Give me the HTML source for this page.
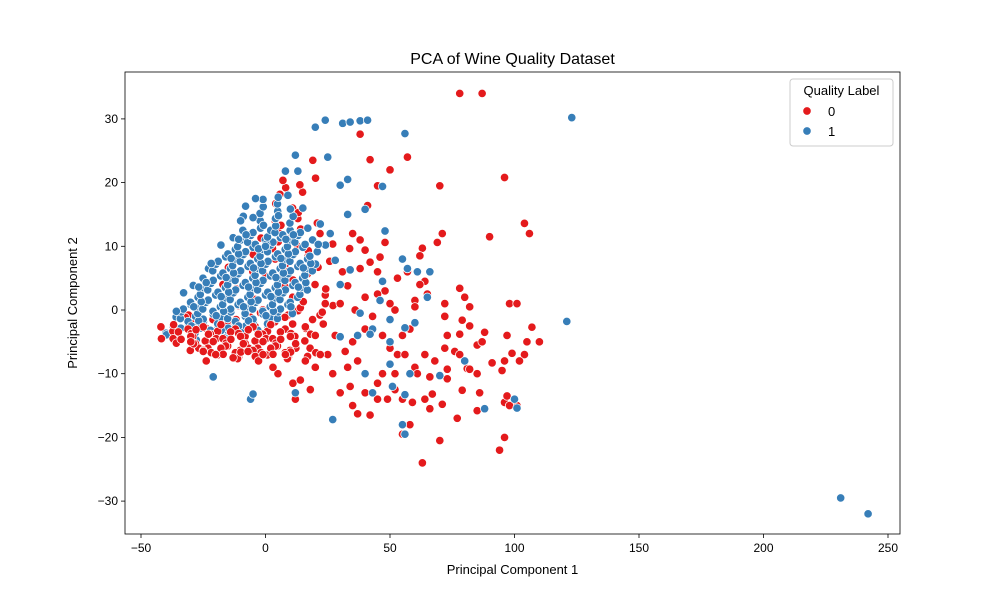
<!DOCTYPE html>
<html><head><meta charset="utf-8"><style>
body{margin:0;background:#fff;}
svg{font-family:"Liberation Sans","DejaVu Sans",sans-serif;}
</style></head><body>
<svg id="chart" width="1000" height="600" viewBox="0 0 1000 600" xmlns="http://www.w3.org/2000/svg">
<rect width="1000" height="600" fill="#fff"/>
<text x="512.5" y="64" text-anchor="middle" font-size="16">PCA of Wine Quality Dataset</text>
<g id="points"></g>
<rect x="125" y="72" width="775" height="462" fill="none" stroke="#000" stroke-width="0.8"/>
<g id="axes"></g>
<text x="512.5" y="574" text-anchor="middle" font-size="13">Principal Component 1</text>
<text transform="translate(77,303) rotate(-90)" text-anchor="middle" font-size="13">Principal Component 2</text>
<g>
<rect x="790" y="79" width="103" height="67" rx="3" fill="#fff" fill-opacity="0.8" stroke="#ccc"/>
<text x="841.5" y="95" text-anchor="middle" font-size="13">Quality Label</text>
<circle cx="807" cy="111" r="4.2" fill="#e41a1c" stroke="#fff" stroke-width="0.75"/>
<text x="828" y="116" font-size="13">0</text>
<circle cx="807" cy="131" r="4.2" fill="#377eb8" stroke="#fff" stroke-width="0.75"/>
<text x="828" y="136" font-size="13">1</text>
</g>
</svg>
<script>
const xTicks=[-50,0,50,100,150,200,250];
const yTicks=[-30,-20,-10,0,10,20,30];
// cluster rows: [y, x values...]
const redRows=[
[-3,-42,-39,-36,-32,-28,-25,-21,-17,-13,-9,-5,-1,3,7,12,16],
[-3.8,-40,-35,-31,-27,-23,-18,-14,-10,-6,-2,2,6,10],
[-4.5,-38,-34,-30,-26,-22,-18,-14,-10,-6,-2,2,6,10,14,19],
[-5.3,-33,-29,-25,-21,-17,-13,-9,-5,-1,3,7,11,14],
[-6,-32,-28,-24,-20,-16,-12,-8,-4,0,4,8,13,17,22],
[-6.7,-25,-21,-17,-13,-9,-5,-1,3,7,11],
[-7.3,-22,-17,-13,-9,-5,-1,3,7,11,16],
[-2.2,-30,-22,-14,-6,2,10,18],
[-1.5,-30,-22,-14,-6,2,10,18,25],
[-0.8,-34,-26,-18,-10,-2,6,14,21],
[0,-26,-18,-10,-2,6,14,21,28],
[2,-22,-14,-6,2,10,17,24],
[4,-18,-10,-2,6,12,19,26],
[6,-14,-6,2,8,15,22,30],
[8,-12,-4,3,10,17,24],
[10,-6,1,6,12,19,27,32],
[12,0,5,9,15,21],
[14,3,8,13,19],
[16,5,10,15],
[18.5,4,9,14],
[20,7,12,21]
];
const blueRows=[
[-4,-40,-37,-34,-30,-26,-22,-18,-14,-10],
[-3.2,-38,-34,-30,-27,-23,-19,-15,-11,-7,-4,0],
[-2.5,-38,-35,-31,-28,-24,-20,-16,-12,-8,-4,0],
[-1.8,-35,-32,-28,-25,-21,-17,-13,-9,-5,-1,3],
[-1,-36,-33,-29,-25,-21,-17,-13,-9,-5,-1,3,6],
[-0.2,-33,-29,-26,-22,-18,-14,-10,-6,-2,2,6,9],
[0.5,-34,-30,-27,-23,-19,-15,-11,-7,-3,1,5,9],
[1.2,-31,-27,-23,-19,-15,-11,-7,-3,1,5,9,12],
[2,-32,-28,-24,-20,-16,-12,-8,-4,0,4,8,12],
[2.8,-28,-24,-20,-16,-12,-8,-4,0,4,8,12,15],
[3.5,-29,-25,-21,-17,-13,-9,-5,-1,3,7,11,15],
[4.3,-25,-21,-17,-13,-9,-5,-1,3,7,11,15],
[5,-26,-22,-18,-14,-10,-6,-2,2,6,10,14,18],
[5.8,-22,-18,-14,-10,-6,-2,2,6,10,14,18],
[6.5,-23,-19,-15,-11,-7,-3,1,5,9,13,17,21],
[7.3,-19,-15,-11,-7,-3,1,5,9,13,17],
[8,-20,-16,-12,-8,-4,0,4,8,12,16,20],
[8.8,-16,-12,-8,-4,0,4,8,12,16],
[9.5,-17,-13,-9,-5,-1,3,7,11,15,19,25],
[10.3,-13,-9,-5,-1,3,7,11,15],
[11,-13,-9,-5,-1,2,6,10,14,18,23],
[11.8,-9,-5,-1,3,6,10,14],
[12.5,-10,-6,-2,2,5,9,13,17],
[14,-8,-3,1,4,8,12],
[15.5,-4,0,4,7,10],
[17,-1,3,6]
];
const redX=[78,87,38,57,42,19,96,70,50,45,104,106,90,71,69,63,57,53,72,78,80,82,98,101,107,110,105,97,88,85,87,91,99,104,102,76,78,72,68,73,81,82,79,77,70,63,66,64,67,85,96,97,96,94,101,98,60,59,55,55,58,52,49,45,40,42,37,35,30,27,34,45,47,52,53,56,64,66,61,71,73,95,86,52,60,65,64,72,73,79,96,82,78,85,50,48,45,48,40,41,42,46,38,35,38,45,43,40,35,33,37,32,28,25,22,20,24,30,33,36,40,47,50,55,58,60,62,62,12,11,14,18,20,16,5,8,3,-1,-7,-13,-20,-25,-30];
const redY=[34,34,27.6,24,23.6,23.5,20.8,19.5,22,19.5,13.6,12,11.5,12,10.6,9.7,6,5,-1,3.4,2,0.5,1,1,-2.7,-5,-5,-4,-3.5,-5.5,-5,-8.3,-6.8,-7,-8,-6.5,-7,-6,-8,-9.3,-9.2,-9.3,-12.6,-17,-20.5,-24,-15.5,-14,-13.2,-15.8,-14.5,-13.5,-20,-22,-15,-15,-9,-14.5,-14,-19.5,-18,-12.5,-14,-14,-13,-16.5,-16.3,-15,-13,-10,-12,-11.5,-10,-10,-7,-7,-7,-10.5,-10,-14.8,-10.8,-9.5,-13,0,1.5,2.5,4.5,1,-4,-1.6,-8,-2.5,-3.8,-10,1,3,6,10.6,9.4,16.4,7.5,8.3,6.5,12,11,2.5,-1,-3,-5,-9,-8,-6.5,-4,-7,-7,-4,1,1,3.8,0,2,-4,-6,-4,-3,0.5,4,8.5,-14,-11.5,-11,-12.5,-9,-8,-10,-7,-9,-7,-6.5,-7.5,-7,-6.5,-5];
const blueX=[123,121,231,242,24,31,34,38,41,56,20,25,12,8,13,30,33,47,40,48,33,22,26,15,9,-4,-8,-10,-5,0,100,101,88,55,56,56,43,27,12,-6,-5,-21,30,37,43,42,50,56,60,65,55,57,61,66,58,70,50,80,51,40,50,47,46,38,34,28,30];
const blueY=[30.2,-1.8,-29.5,-32,29.8,29.3,29.5,29.7,29.8,27.7,28.7,24,24.3,21.8,21.8,19.6,20.5,19.4,15.8,12.4,15,13.5,12,16,18,17.5,16.3,14,14.5,10,-14,-15.4,-15.5,-18,-19.5,-13.3,-13,-17.2,-13,-14,-13.2,-10.5,-4.2,-4,-3,-3.8,-1.5,-2.8,-2,2,8,6.5,6,6,-10,-10.3,-8.5,-8,-12,-10,-5,4.5,1.5,-0.5,6.3,7.8,4];

const X0=265.5, XS=2.49, Y0=310, YS=6.37;
const sx=v=>X0+v*XS, sy=v=>Y0-v*YS;
const NS='http://www.w3.org/2000/svg';
const pts=document.getElementById('points');
const axes=document.getElementById('axes');
function dot(x,y,c,name){
  const el=document.createElementNS(NS,'circle');
  el.setAttribute('cx',sx(x));el.setAttribute('cy',sy(y));el.setAttribute('r',4.2);
  el.setAttribute('fill',c);el.setAttribute('stroke','#fff');el.setAttribute('stroke-width',0.75);
  
  
  pts.appendChild(el);
}
// small deterministic dither to avoid visual grid artefacts in dense rows
function drawRows(rows,c,name,filter){
  rows.forEach((r,ri)=>{if(!filter(r[0]))return;for(let i=1;i<r.length;i++){
    const dx=(((i*7+ri*3)%5)-2)*0.9, dy=(((i*3+ri*2)%5)-2)*0.35;
    dot(r[i]+dx,r[0]+dy,c,name);}});
}
drawRows(redRows,'#e41a1c','point-quality-0',y=>y>-2.5);
drawRows(blueRows,'#377eb8','point-quality-1',y=>true);
drawRows(redRows,'#e41a1c','point-quality-0',y=>y<=-2.5);
redX.forEach((x,i)=>dot(x,redY[i],'#e41a1c','point-quality-0'));
blueX.forEach((x,i)=>dot(x,blueY[i],'#377eb8','point-quality-1'));
function txt(x,y,s,anchor){
  const t=document.createElementNS(NS,'text');
  t.setAttribute('x',x);t.setAttribute('y',y);t.setAttribute('font-size',12);t.setAttribute('text-anchor',anchor);
  t.textContent=s;
  
  
  axes.appendChild(t);
}
function line(x1,y1,x2,y2){
  const l=document.createElementNS(NS,'line');
  l.setAttribute('x1',x1);l.setAttribute('y1',y1);l.setAttribute('x2',x2);l.setAttribute('y2',y2);
  l.setAttribute('stroke','#000');l.setAttribute('stroke-width',0.8);
  
  
  axes.appendChild(l);
}
xTicks.forEach(v=>{line(sx(v),534,sx(v),538);txt(sx(v),552,String(v).replace('-','−'),'middle');});
yTicks.forEach(v=>{line(121,sy(v),125,sy(v));txt(118,sy(v)+4,String(v).replace('-','−'),'end');});
</script>
</body></html>
